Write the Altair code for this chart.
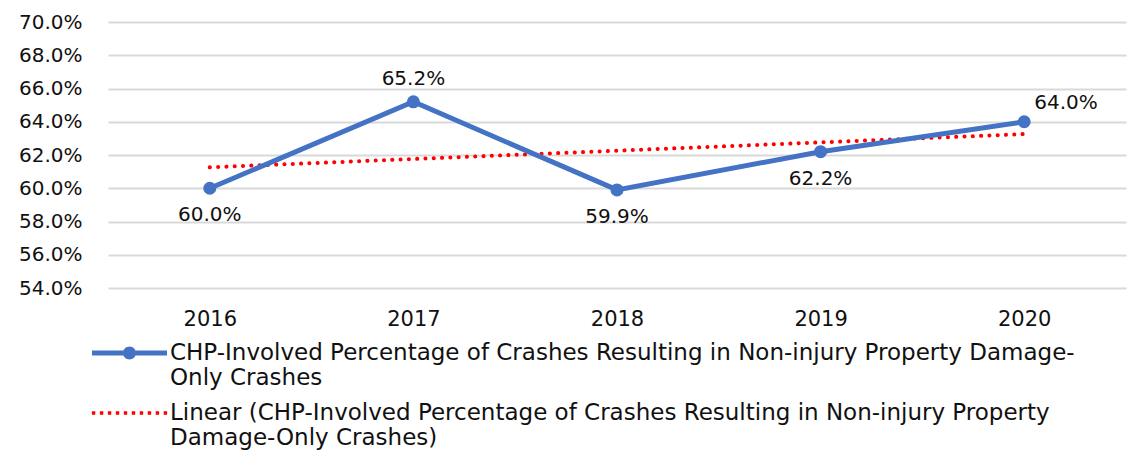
import altair as alt
import numpy as np
import pandas as pd

# ---- values -------------------------------------------------------------
years = ["2016", "2017", "2018", "2019", "2020"]
pct = [60.0, 65.2, 59.9, 62.2, 64.0]
y_ticks = [54, 56, 58, 60, 62, 64, 66, 68, 70]

series_name = ("CHP-Involved Percentage of Crashes Resulting in Non-injury Property Damage-"
               "|Only Crashes")
trend_name = ("Linear (CHP-Involved Percentage of Crashes Resulting in Non-injury Property"
              "|Damage-Only Crashes)")

# which years carry their value label above / below / to the right of the point
above_years = ["2017"]
below_years = ["2016", "2018", "2019"]
right_years = ["2020"]

# least-squares linear trend over the five years
idx = np.arange(len(years))
slope, intercept = np.polyfit(idx, pct, 1)
trend = (intercept + slope * idx).tolist()

df = pd.DataFrame({"year": years, "pct": pct, "trend": trend})

# ---- styling ------------------------------------------------------------
BLUE = "#4472C4"
RED = "#FF0000"
FONT = "DejaVu Sans"
FS = 20
FS_X = 21
FS_LEG = 23

# legend symbol paths: nominal 40px box (scale 20px per unit), drawn 75px wide
SYM = 40
u = SYM / 2
half_len = 37.5 / u
h = 2.5 / u
r = 6.5 / u
line_dot = (
    f"M{-half_len},{-h}H{-r + 0.02}V{h}H{-half_len}Z "
    f"M{r - 0.02},{-h}H{half_len}V{h}H{r - 0.02}Z "
    f"M{-r},0A{r},{r} 0 1,1 {r},0A{r},{r} 0 1,1 {-r},0Z"
)
d = 1.7 / u
dots = " ".join(
    f"M{c - d},{-d}H{c + d}V{d}H{c - d}Z"
    for c in np.linspace(-half_len + 0.08, half_len - 0.08, 10)
)
extra = 37.5 - SYM / 2  # how far the drawn symbol reaches past its box

x_enc = alt.X("year:N", title=None,
              axis=alt.Axis(labelAngle=0, ticks=False, domain=False,
                            labelPadding=20, labelFontSize=FS_X))
y_scale = alt.Scale(domain=[54, 70], nice=False, zero=False)
y_axis = alt.Axis(values=y_ticks, tickCount=len(y_ticks) + 1, title=None,
                  ticks=False, domain=False,
                  labelPadding=26, labelFontSize=FS, grid=True, labelOverlap=False,
                  gridColor="#D9D9D9", gridWidth=2,
                  labelExpr="format(datum.value, '.1f') + '%'")

base = alt.Chart(df)

trend_line = base.mark_line(
    color=RED, strokeWidth=4, strokeDash=[0.1, 8.2], strokeCap="round"
).encode(x=x_enc, y=alt.Y("trend:Q", scale=y_scale, axis=y_axis))

value_line = base.mark_line(color=BLUE, strokeWidth=5).encode(
    x=x_enc, y=alt.Y("pct:Q", scale=y_scale, axis=y_axis))

value_pts = base.mark_circle(color=BLUE, size=170, opacity=1).encode(
    x=x_enc, y=alt.Y("pct:Q", scale=y_scale, axis=y_axis))

label_base = base.transform_calculate(
    label="format(datum.pct, '.1f') + '%'")

def labels(year_list, **kw):
    return label_base.transform_filter(
        alt.FieldOneOfPredicate(field="year", oneOf=year_list)
    ).mark_text(font=FONT, fontSize=FS, color="#111111", **kw).encode(
        x=x_enc, y=alt.Y("pct:Q", scale=y_scale, axis=y_axis), text="label:N")

lab_above = labels(above_years, dy=-23, baseline="middle")
lab_below = labels(below_years, dy=27, baseline="middle")
lab_right = labels(right_years, dx=10, dy=-19, align="left", baseline="middle")

# legend: an empty layer that only supplies the colour/shape legend
legend_layer = base.transform_filter("false").mark_point(
    filled=True, size=SYM * SYM, strokeWidth=0, opacity=1
).encode(
    x=x_enc,
    y=alt.Y("pct:Q", scale=y_scale, axis=y_axis),
    color=alt.Color("series:N",
                    scale=alt.Scale(domain=[series_name, trend_name], range=[BLUE, RED]),
                    legend=alt.Legend(
                        title=None, orient="none", legendX=-16 + extra, legendY=311,
                        direction="vertical", labelExpr="split(datum.label, '|')",
                        labelLimit=1100, labelFontSize=FS_LEG, labelFont=FONT,
                        labelColor="#111111", labelOffset=3 + extra, rowPadding=3,
                        symbolSize=SYM * SYM, symbolStrokeWidth=0)),
    shape=alt.Shape("series:N",
                    scale=alt.Scale(domain=[series_name, trend_name],
                                    range=[line_dot, dots]),
                    legend=None),
)

chart = alt.layer(
    trend_line, value_line, value_pts, lab_above, lab_below, lab_right, legend_layer
).properties(
    width=1018, height=266,
    autosize=alt.AutoSizeParams(type="none"),
    padding={"left": 108, "top": 22, "right": 17, "bottom": 188},
).configure(
    font=FONT,
).configure_axis(
    labelFont=FONT, labelColor="#111111",
).configure_view(
    stroke=None,
).configure_legend(
    labelFont=FONT,
)

chart.save("out.html", embed_options={"renderer": "svg", "actions": False})
